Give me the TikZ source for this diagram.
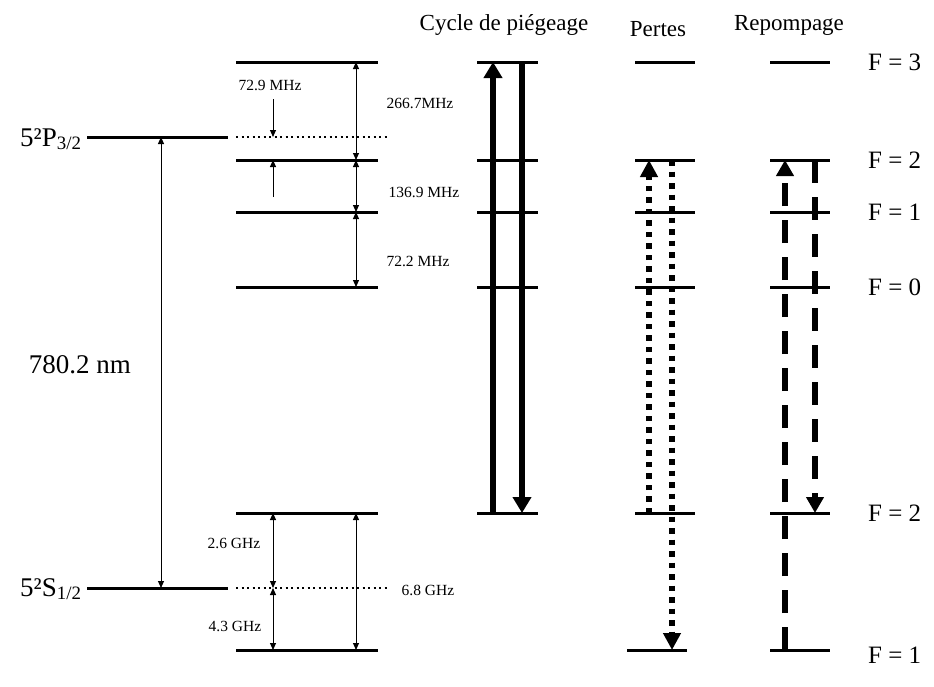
\documentclass[tikz,border=0pt]{standalone}
\usepackage{fontspec}
\setmainfont{Liberation Serif}
\usetikzlibrary{arrows.meta}
\begin{document}
\begin{tikzpicture}[x=1pt,y=-1pt,
  lvl/.style={line width=3pt},
  dotlvl/.style={line width=2pt,dash pattern=on 2pt off 3.5pt},
  thinarr/.style={line width=1pt,{Triangle[length=7pt,width=6pt]}-{Triangle[length=7pt,width=6pt]}},
  onearr/.style={line width=1pt,-{Triangle[length=7pt,width=6pt]}},
  cycarr/.style={line width=6pt,-{Triangle[length=16pt,width=18pt]}},
  lossarr/.style={line width=5.5pt,dash pattern=on 5.5pt off 6pt,-{Triangle[length=17pt,width=17pt]}},
  reparr/.style={line width=6pt,dash pattern=on 23pt off 14pt,-{Triangle[length=16pt,width=17pt]}},
  big/.style={font=\fontsize{23}{27}\selectfont,inner sep=0pt},
  flab/.style={font=\fontsize{25}{29}\selectfont,inner sep=0pt,anchor=west},
  huge/.style={font=\fontsize{27}{31}\selectfont,inner sep=0pt},
  small/.style={font=\fontsize{15.5}{18}\selectfont,inner sep=0pt}]
\useasboundingbox (0,0) rectangle (934,686);

% left levels
\draw[lvl] (87,137) -- (228,137);
\draw[lvl] (87,588) -- (228,588);
% middle column levels
\foreach \y in {62,160,212,287,513,650} \draw[lvl] (236,\y) -- (378,\y);
\draw[dotlvl] (236,137) -- (387,137);
\draw[dotlvl] (236,588) -- (387,588);
% cycle column
\foreach \y in {62,160,212,287,513} \draw[lvl] (477,\y) -- (538,\y);
% pertes column
\foreach \y in {62,160,212,287,513} \draw[lvl] (635,\y) -- (695,\y);
\draw[lvl] (627,650) -- (687,650);
% repompage column
\foreach \y in {62,160,212,287,513,650} \draw[lvl] (770,\y) -- (830,\y);

% coordinates
\coordinate (wlT) at (161,137); \coordinate (wlB) at (161,588);
\coordinate (h3) at (356,62); \coordinate (h2) at (356,160);
\coordinate (h1) at (356,212); \coordinate (h0) at (356,287);
\coordinate (gT) at (356,513); \coordinate (gB) at (356,650);
\coordinate (sT) at (273,513); \coordinate (sM) at (273,588); \coordinate (sB) at (273,650);
\coordinate (dA) at (273,99); \coordinate (dB) at (273,137);
\coordinate (uA) at (273,197); \coordinate (uB) at (273,160);
\coordinate (cU0) at (493,513); \coordinate (cU1) at (493,62);
\coordinate (cD0) at (522,62); \coordinate (cD1) at (522,513);
\coordinate (pU0) at (649,513); \coordinate (pU1) at (649,160);
\coordinate (pD0) at (672,160); \coordinate (pD1) at (672,650);
\coordinate (rU0) at (785,650); \coordinate (rU1) at (785,160);
\coordinate (rD0) at (815,160); \coordinate (rD1) at (815,513);

% thin arrows
\draw[thinarr] (wlB) -- (wlT);
\draw[thinarr] (h3) -- (h2);
\draw[thinarr] (h2) -- (h1);
\draw[thinarr] (h1) -- (h0);
\draw[thinarr] (gT) -- (gB);
\draw[thinarr] (sT) -- (sM);
\draw[thinarr] (sM) -- (sB);
\draw[onearr] (dA) -- (dB);
\draw[onearr] (uA) -- (uB);

% transitions
\draw[cycarr] (cU0) -- (cU1);
\draw[cycarr] (cD0) -- (cD1);
\draw[lossarr] (pU0) -- (pU1);
\draw[lossarr] (pD0) -- (pD1);
\draw[reparr] (rU0) -- (rU1);
\draw[reparr] (rD0) -- (rD1);

% texts
\node[big,anchor=base] (tc) at (504,30) {Cycle de piégeage};
\node[big,anchor=base] (tp) at (658,36) {Pertes};
\node[big,anchor=base] (tr) at (789,30) {Repompage};
\node[huge,anchor=base west] (lP) at (20,146) {5²P\textsubscript{3/2}};
\node[huge,anchor=base west] (lS) at (20,596) {5²S\textsubscript{1/2}};
\node[huge] (wl) at (80,365) {780.2 nm};
\node[flab] (f3) at (868,62) {F = 3};
\node[flab] (f2) at (868,160) {F = 2};
\node[flab] (f1) at (868,212) {F = 1};
\node[flab] (f0) at (868,287) {F = 0};
\node[flab] (g2) at (868,513) {F = 2};
\node[flab] (g1) at (868,655) {F = 1};
\node[small] (m1) at (270,85) {72.9 MHz};
\node[small] (m2) at (420,103) {266.7MHz};
\node[small] (m3) at (424,192) {136.9 MHz};
\node[small] (m4) at (418,261) {72.2 MHz};
\node[small] (g1l) at (234,543) {2.6 GHz};
\node[small] (g2l) at (235,626) {4.3 GHz};
\node[small] (g3l) at (428,590) {6.8 GHz};
\end{tikzpicture}
\end{document}
